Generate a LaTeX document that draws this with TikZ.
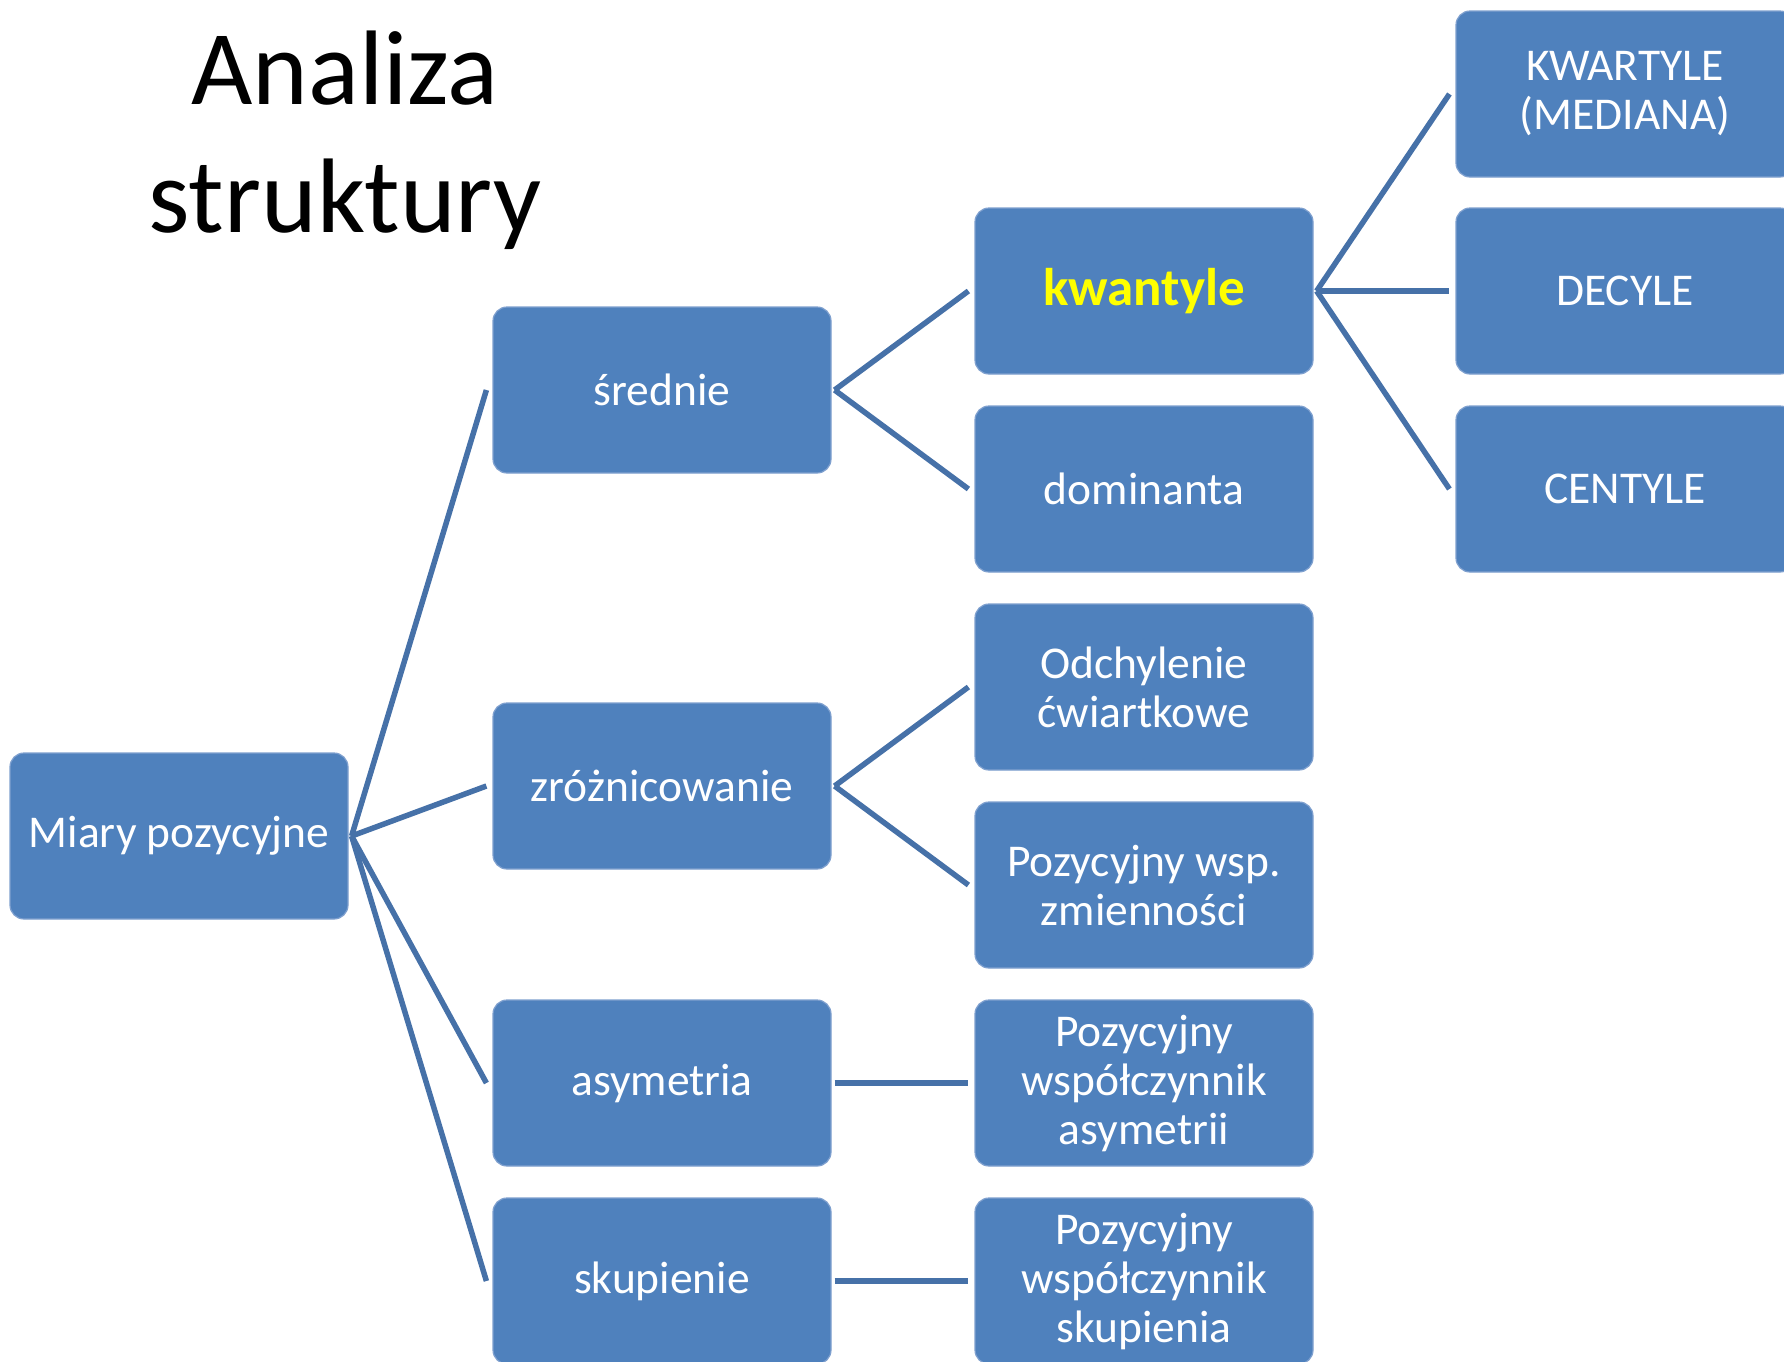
\documentclass[tikz,border=0pt]{standalone}
\usepackage{fontspec}
\setmainfont{Carlito}
\definecolor{boxblue}{HTML}{4F81BD}
\definecolor{edgeblue}{HTML}{7FA0CF}
\definecolor{linkblue}{HTML}{4671A8}
\definecolor{hilite}{HTML}{FFFF00}
\begin{document}
\begin{tikzpicture}[x=1pt,y=-1pt,
  box/.style={rectangle, rounded corners=14pt, fill=boxblue, draw=edgeblue,
    line width=1.2pt, minimum width=338pt, minimum height=166pt,
    inner sep=0pt, text=white, align=center,
    font=\fontsize{45.5}{49}\selectfont},
  link/.style={draw=linkblue, line width=5.5pt},
  title/.style={inner sep=0pt, align=center, text=black,
    font=\fontsize{106}{128}\selectfont}]
\useasboundingbox (0,0) rectangle (1784,1361);
\clip (0,0) rectangle (1784,1361);
\fill[white] (0,0) rectangle (1784,1361);

% heading
\node[title] (head) at (345,140) {Analiza\\struktury};

% root
\node[box] (root) at (179,836) {Miary pozycyjne};

% second level
\node[box] (sre) at (662,390) {średnie};
\node[box] (zro) at (662,786) {zróżnicowanie};
\node[box] (asy) at (662,1083) {asymetria};
\node[box] (sku) at (662,1281) {skupienie};

% third level
\node[box, font=\fontsize{53}{58}\selectfont\bfseries, text=hilite] (kwa) at (1144,291) {kwantyle};
\node[box] (dom) at (1144,489) {dominanta};
\node[box] (odc) at (1144,687) {Odchylenie\\ćwiartkowe};
\node[box] (pwz) at (1144,885) {Pozycyjny wsp.\\zmienności};
\node[box] (pwa) at (1144,1083) {Pozycyjny\\współczynnik\\asymetrii};
\node[box] (pws) at (1144,1281) {Pozycyjny\\współczynnik\\skupienia};

% fourth level
\node[box] (kwr) at (1625,94) {KWARTYLE\\(MEDIANA)};
\node[box] (dec) at (1625,291) {DECYLE};
\node[box] (cen) at (1625,489) {CENTYLE};

% connectors
\foreach \a/\b in {root/sre, root/zro, root/asy, root/sku,
                   sre/kwa, sre/dom, zro/odc, zro/pwz,
                   asy/pwa, sku/pws, kwa/kwr, kwa/dec, kwa/cen}
  \draw[link] ([xshift=3pt]\a.east) -- ([xshift=-6pt]\b.west);
\end{tikzpicture}
\end{document}
